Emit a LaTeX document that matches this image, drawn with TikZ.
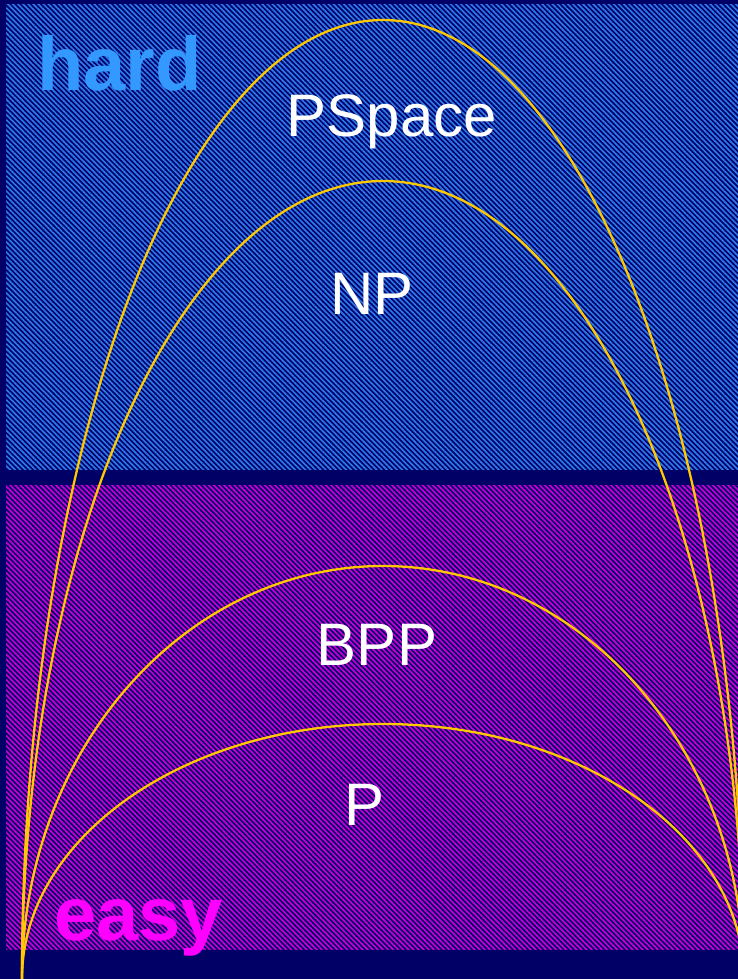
\documentclass[tikz,border=0pt]{standalone}
\usepackage{fontspec}
\setmainfont{Liberation Sans}
\usetikzlibrary{patterns.meta}
\definecolor{navy}{RGB}{0,0,102}
\definecolor{hardstripe}{RGB}{45,120,235}
\definecolor{easystripe}{RGB}{200,0,215}
\definecolor{hardtext}{RGB}{51,153,255}
\definecolor{easytext}{RGB}{255,0,255}
\definecolor{arcgold}{RGB}{255,200,0}
\tikzset{
  hardfill/.style={pattern={Lines[angle=-45,distance=3.6pt,line width=1.7pt]}, pattern color=hardstripe},
  easyfill/.style={pattern={Lines[angle=-45,distance=3.6pt,line width=1.7pt]}, pattern color=easystripe},
  classarc/.style={draw=arcgold, line width=2.3pt},
  classlabel/.style={text=white, inner sep=0pt, anchor=base, font=\fontsize{60}{60}\selectfont},
  bigword/.style={inner sep=0pt, anchor=base west, font=\bfseries\fontsize{76}{76}\selectfont}
}
\begin{document}
\begin{tikzpicture}[x=1pt,y=-1pt]
\fill[navy] (0,0) rectangle (738,979);
\useasboundingbox (0,0) rectangle (738,979);
% regions
\fill[hardfill] (6,5) rectangle (738,469);
\fill[easyfill] (6,485) rectangle (738,949);
% arcs (half ellipses from the common left foot)
\coordinate (foot) at (22,979);
\draw[classarc] (foot) arc[start angle=180, end angle=360, x radius=361, y radius=959];
\draw[classarc] (foot) arc[start angle=180, end angle=360, x radius=361, y radius=798];
\draw[classarc] (foot) arc[start angle=180, end angle=360, x radius=361, y radius=413];
\draw[classarc] (foot) arc[start angle=180, end angle=360, x radius=361, y radius=255];
% labels
\node[classlabel] (pspace) at (392,136) {PSpace};
\node[classlabel] (np) at (372,314) {NP};
\node[classlabel] (bpp) at (377,665) {BPP};
\node[classlabel] (p) at (365,825) {P};
\node[bigword, text=hardtext] (hard) at (37,91) {hard};
\node[bigword, text=easytext] (easy) at (54,940) {easy};
\end{tikzpicture}
\end{document}
